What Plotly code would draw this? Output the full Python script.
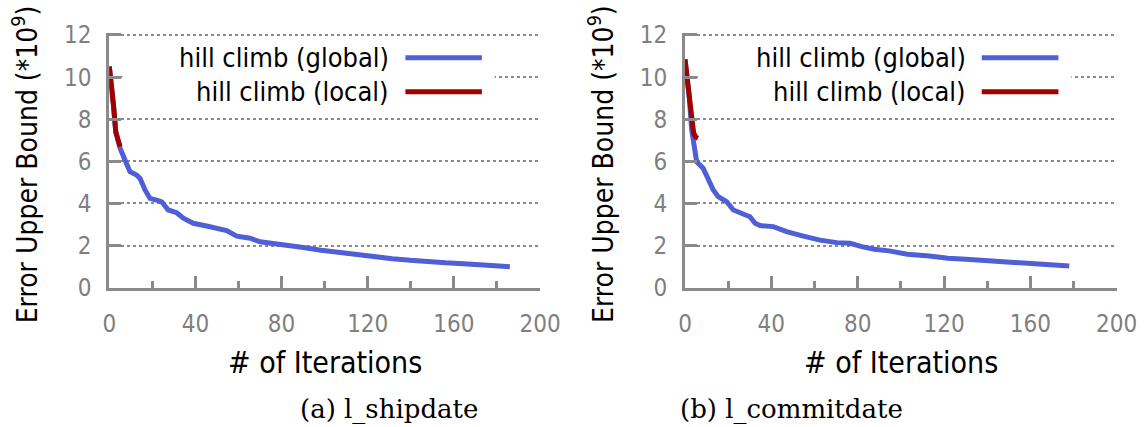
import plotly.graph_objects as go

# ---------------- data ----------------
# (a) l_shipdate
ship_local_x = [0, 1, 2, 3, 4, 5]
ship_local_y = [10.5, 9.7, 8.6, 7.4, 6.95, 6.7]

ship_global_x = [0, 1, 2, 3, 4, 5, 7.3, 9.6, 12.7, 14.3, 16.6, 18.9, 22, 24.3, 27.4, 31.3,
                 34.4, 39, 45.2, 49.9, 54.5, 59.2, 65.4, 70, 76.2, 83.9, 90.1, 98.3,
                 106.6, 114.9, 123.1, 131.4, 139.7, 147.9, 156.2, 164.5, 172.7, 181, 186]
ship_global_y = [10.5, 9.7, 8.6, 7.4, 6.95, 6.62, 6.06, 5.51, 5.35, 5.19, 4.64, 4.24, 4.16,
                 4.08, 3.69, 3.56, 3.3, 3.06, 2.93, 2.82, 2.71, 2.45, 2.35, 2.18, 2.11, 2.03,
                 1.91, 1.78, 1.67, 1.54, 1.48, 1.38, 1.3, 1.22, 1.18, 1.14, 1.11, 1.03, 1.0]

# (b) l_commitdate
commit_local_x = [0, 1, 2, 3, 4, 5, 6]
commit_local_y = [10.85, 10.0, 9.0, 8.0, 7.35, 7.15, 7.1]

commit_global_x = [0, 1, 2, 3.1, 4.6, 5.4, 8.4, 10, 13.1, 15.4, 19.3, 22.4, 26.3, 30.1, 32.5,
                   34.8, 40.9, 47.1, 54.8, 62.6, 70.3, 76.5, 81.9, 87.7, 94.5, 103, 113.2,
                   121.7, 130.2, 138.7, 147.2, 155.7, 159, 167.7, 178]
commit_global_y = [10.85, 10.0, 9.0, 7.49, 6.22, 5.98, 5.67, 5.27, 4.64, 4.32, 4.08, 3.69,
                   3.53, 3.37, 3.06, 2.95, 2.9, 2.66, 2.45, 2.26, 2.14, 2.11, 1.95, 1.83,
                   1.75, 1.59, 1.51, 1.4, 1.35, 1.29, 1.21, 1.16, 1.13, 1.08, 1.03]

x_ticks = [0, 40, 80, 120, 160, 200]
y_ticks = [0, 2, 4, 6, 8, 10, 12]
series_names = ["hill climb (global)", "hill climb (local)"]
captions = ["(a) l_shipdate", "(b) l_commitdate"]
x_title = "# of Iterations"
y_title = "Error Upper Bound (*10<sup>9</sup>)"

# ---------------- styling ----------------
W, H = 1146, 427
BLUE = "#4f5fd6"
RED = "#a00000"
GRAY = "#8a8a8a"
TICKGRAY = "#7f7f7f"
SANS = "DejaVu Sans Condensed, Liberation Sans, sans-serif"
SERIF = "DejaVu Serif, Liberation Serif, serif"


def px_x(p):
    return p / W


def px_y(p):
    return 1 - p / H


panels = [
    dict(x0=109.3, x1=540.0, lx=ship_local_x, ly=ship_local_y,
         gx=ship_global_x, gy=ship_global_y, cap=captions[0], capx=389),
    dict(x0=685.0, x1=1116.7, lx=commit_local_x, ly=commit_local_y,
         gx=commit_global_x, gy=commit_global_y, cap=captions[1], capx=791),
]
Y_TOP, Y_BOT = 33.3, 287.7
Y_MAX = 12.08  # slightly above 12 so plotly keeps the top grid line

fig = go.Figure()
annotations = []
shapes = []

for i, p in enumerate(panels):
    n = "" if i == 0 else str(i + 1)
    xa, ya = "x" + n, "y" + n
    fig.add_trace(go.Scatter(x=p["gx"], y=p["gy"], mode="lines", xaxis=xa, yaxis=ya,
                             line=dict(color=BLUE, width=5), showlegend=False,
                             name=series_names[0]))
    fig.add_trace(go.Scatter(x=p["lx"], y=p["ly"], mode="lines", xaxis=xa, yaxis=ya,
                             line=dict(color=RED, width=5), showlegend=False,
                             name=series_names[1]))

    axis_common = dict(showline=True, linecolor=GRAY, linewidth=3, ticks="inside",
                       tickcolor=GRAY, tickwidth=2.5, ticklen=12, zeroline=False,
                       automargin=False,
                       tickfont=dict(family=SANS, size=24, color=TICKGRAY))
    fig.update_layout(**{
        "xaxis" + n: dict(domain=[px_x(p["x0"]), px_x(p["x1"])], range=[0, 200],
                          tickvals=x_ticks, showgrid=False, anchor=ya,
                          minor=dict(ticks="inside", dtick=20, ticklen=7,
                                     tickcolor=GRAY, tickwidth=2.5),
                          ticklabelstandoff=12, **axis_common),
        "yaxis" + n: dict(domain=[px_y(Y_BOT), px_y(Y_TOP)], range=[0, Y_MAX],
                          tickvals=y_ticks, showgrid=True, gridcolor=GRAY, gridwidth=1.5,
                          griddash="dot", anchor=xa, ticklabelstandoff=10,
                          **axis_common),
    })

    # legend (text right-aligned, sample line on the right)
    shapes.append(dict(type="rect", xref=xa, yref=ya, x0=6, x1=179, y0=8.5, y1=11.75,
                       fillcolor="white", line=dict(width=0), layer="between"))
    for k, (nm, col, yy) in enumerate([(series_names[0], BLUE, 10.92),
                                       (series_names[1], RED, 9.31)]):
        annotations.append(dict(text=nm, xref=xa, yref=ya, x=131, y=yy, xanchor="right",
                                yanchor="middle", showarrow=False,
                                font=dict(family=SANS, size=27, color="black")))
        shapes.append(dict(type="line", xref=xa, yref=ya, x0=137.5, x1=173, y0=yy, y1=yy,
                           line=dict(color=col, width=5)))

    # axis titles
    annotations.append(dict(text=x_title, xref="paper", yref="paper",
                            x=px_x((p["x0"] + p["x1"]) / 2), y=px_y(362),
                            xanchor="center", yanchor="middle", showarrow=False,
                            font=dict(family=SANS, size=30, color="black")))
    annotations.append(dict(text=y_title, xref="paper", yref="paper",
                            x=px_x(p["x0"] - 84), y=px_y(164), textangle=-90,
                            xanchor="center", yanchor="middle", showarrow=False,
                            font=dict(family=SANS, size=28, color="black")))
    # caption
    annotations.append(dict(text=p["cap"], xref="paper", yref="paper",
                            x=px_x(p["capx"]), y=px_y(409), xanchor="center",
                            yanchor="middle", showarrow=False,
                            font=dict(family=SERIF, size=26, color="black")))

fig.update_layout(width=W, height=H, margin=dict(l=0, r=0, t=0, b=0, autoexpand=False),
                  paper_bgcolor="white", plot_bgcolor="white",
                  annotations=annotations, shapes=shapes, showlegend=False)

fig.write_html("out.html")
